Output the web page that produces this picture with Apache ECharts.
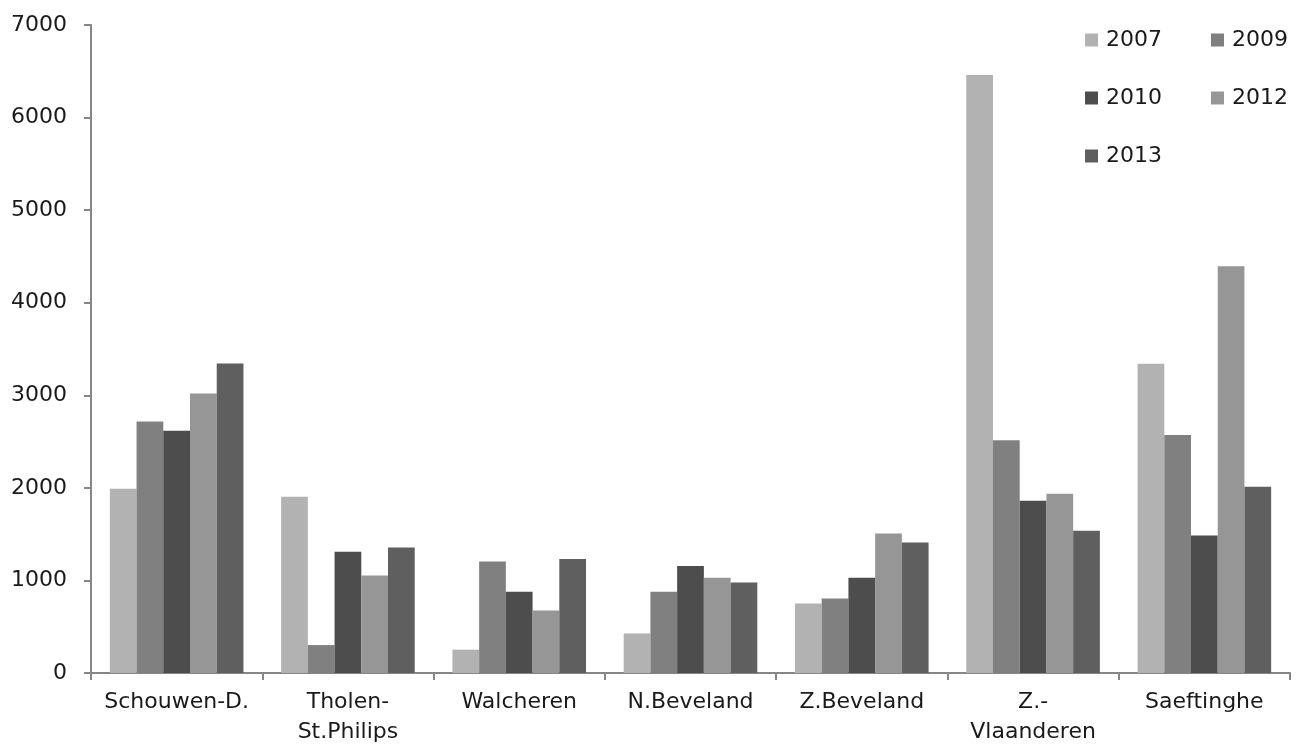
<!DOCTYPE html>
<html>
<head>
<meta charset="utf-8">
<script src="https://cdn.jsdelivr.net/npm/echarts@6/dist/echarts.min.js"></script>
<style>
html,body{margin:0;padding:0;background:#fff;}
#chart{width:1299px;height:753px;}
</style>
</head>
<body>
<div id="chart"></div>
<script>
const categories = ["Schouwen-D.", "Tholen-\nSt.Philips", "Walcheren", "N.Beveland", "Z.Beveland", "Z.-\nVlaanderen", "Saeftinghe"];
const years = ["2007", "2009", "2010", "2012", "2013"];
const v2007 = [1990, 1905, 252, 428, 752, 6460, 3342];
const v2009 = [2718, 302, 1205, 878, 806, 2513, 2570];
const v2010 = [2618, 1310, 878, 1155, 1029, 1862, 1486];
const v2012 = [3020, 1054, 676, 1029, 1508, 1936, 4393];
const v2013 = [3344, 1356, 1231, 978, 1410, 1537, 2012];
const yTicks = [0, 1000, 2000, 3000, 4000, 5000, 6000, 7000];
const colors = ["#b2b2b2", "#808080", "#4d4d4d", "#969696", "#5f5f5f"];
const seriesValues = [v2007, v2009, v2010, v2012, v2013];

const font = "DejaVu Sans";
const chart = echarts.init(document.getElementById('chart'));
const legendText = {fontFamily: font, fontSize: 22, color: '#1a1a1a', lineHeight: 22, padding: [0, 0, 0, 3]};
chart.setOption({
  animation: false,
  grid: {left: 91, right: 9, top: 25, bottom: 80, containLabel: false},
  legend: [
    {data: ["2007", "2010", "2013"], orient: 'vertical', left: 1080, top: 24, itemWidth: 13, itemHeight: 13, itemGap: 36, textStyle: legendText, icon: 'rect'},
    {data: ["2009", "2012"], orient: 'vertical', left: 1206, top: 24, itemWidth: 13, itemHeight: 13, itemGap: 36, textStyle: legendText, icon: 'rect'}
  ],
  xAxis: {
    type: 'category',
    data: categories,
    axisLine: {lineStyle: {color: '#868686', width: 2}},
    axisTick: {show: true, length: 7, lineStyle: {color: '#868686', width: 2}},
    axisLabel: {interval: 0, fontFamily: font, fontSize: 22, color: '#1a1a1a', margin: 14, lineHeight: 30}
  },
  yAxis: {
    type: 'value',
    min: yTicks[0],
    max: yTicks[yTicks.length - 1],
    interval: 1000,
    splitLine: {show: false},
    axisLine: {show: true, lineStyle: {color: '#868686', width: 2}},
    axisTick: {show: true, length: 7, lineStyle: {color: '#868686', width: 2}},
    axisLabel: {fontFamily: font, fontSize: 22, color: '#1a1a1a', margin: 24, formatter: v => String(v)}
  },
  series: years.map((y, i) => ({
    name: y,
    type: 'bar',
    data: seriesValues[i],
    barGap: '0%',
    barCategoryGap: '22%',
    itemStyle: {color: colors[i]}
  }))
});
</script>
</body>
</html>
